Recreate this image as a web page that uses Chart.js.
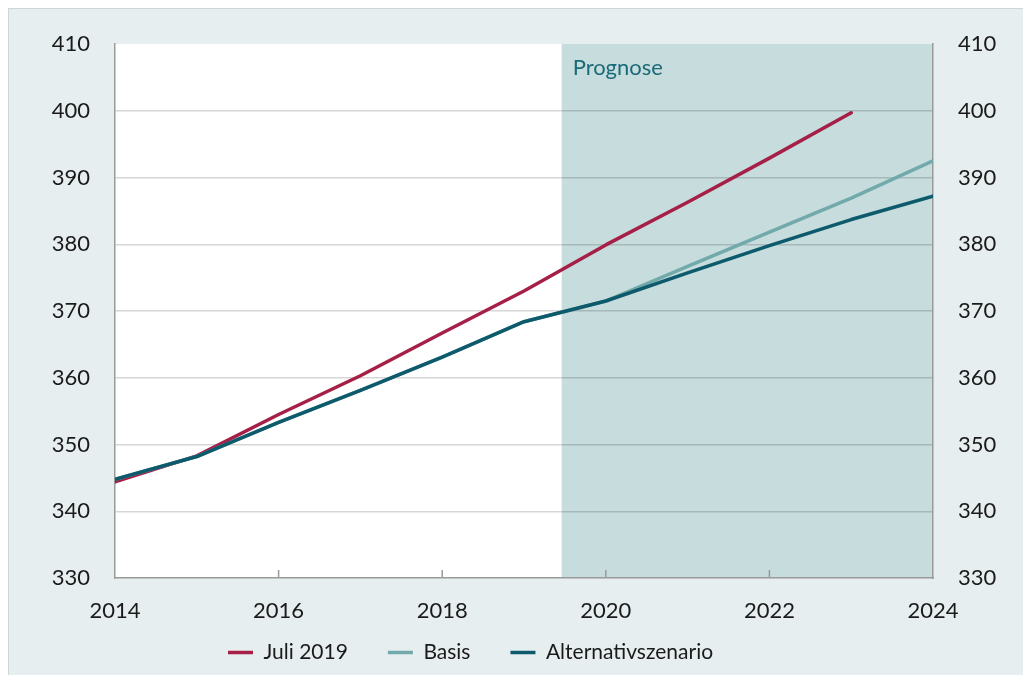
<!DOCTYPE html>
<html>
<head>
<meta charset="utf-8">
<script src="https://cdn.jsdelivr.net/npm/chart.js@4"></script>
<style>
  html, body { margin: 0; padding: 0; background: #ffffff; }
  #frame { position: absolute; left: 8px; top: 8px; width: 1015px; height: 667px;
           background: #e7eeef; border-top: 1px solid #cfd6d8; border-left: 1px solid #cfd6d8; box-sizing: border-box; }
  #wrap { position: absolute; left: 0; top: 0; width: 1023px; height: 675px; }
</style>
</head>
<body>
<div id="frame"></div>
<div id="wrap"><canvas id="c" width="1023" height="675"></canvas></div>
<script>
// ---- data ----
const years = [2014, 2015, 2016, 2017, 2018, 2019, 2020, 2021, 2022, 2023, 2024];
const juli2019 = [344.4, 348.3, 354.5, 360.3, 366.7, 373.0, 379.9, 386.3, 392.9, 399.7, null];
const basis = [344.8, 348.2, 353.3, 358.1, 363.1, 368.4, 371.5, 376.7, 381.8, 386.9, 392.5];
const alternativ = [344.8, 348.2, 353.3, 358.1, 363.1, 368.4, 371.5, 375.7, 379.8, 383.7, 387.2];
const seriesNames = ['Juli 2019', 'Basis', 'Alternativszenario'];
const seriesColors = ['#a61f46', '#72a9aa', '#0d5a6c'];
const yTicks = { min: 330, max: 410, step: 10 };
const xTicks = { min: 2014, max: 2024, step: 2 };
const prognoseStart = 2019.46;
const prognoseEnd = 2024;
const prognoseLabel = 'Prognose';

const FONT = 'Lato, "Open Sans", sans-serif';

function pts(arr) {
  return years.map((y, i) => ({ x: y, y: arr[i] }));
}

const bgPlugin = {
  id: 'bgPlugin',
  beforeDraw(chart) {
    const { ctx, chartArea: a, scales: { x } } = chart;
    ctx.save();
    ctx.fillStyle = '#ffffff';
    ctx.fillRect(a.left, a.top, a.right - a.left, a.bottom - a.top);
    const x0 = x.getPixelForValue(prognoseStart);
    const x1 = x.getPixelForValue(prognoseEnd);
    ctx.fillStyle = '#c6dcdd';
    ctx.fillRect(x0, a.top, x1 - x0, a.bottom - a.top);
    ctx.restore();
  },
  beforeDatasetsDraw(chart) {
    const { ctx, chartArea: a, scales: { x } } = chart;
    ctx.save();
    // inward x tick marks
    ctx.strokeStyle = '#9a9a9a';
    ctx.lineWidth = 1.5;
    x.ticks.forEach(t => {
      if (t.value === xTicks.min || t.value === xTicks.max) return;
      const px = x.getPixelForValue(t.value);
      ctx.beginPath();
      ctx.moveTo(px, a.bottom);
      ctx.lineTo(px, a.bottom - 8);
      ctx.stroke();
    });
    // Prognose label
    const x0 = x.getPixelForValue(prognoseStart);
    ctx.fillStyle = '#1b6a79';
    ctx.font = '22px ' + FONT;
    ctx.textAlign = 'left';
    ctx.textBaseline = 'alphabetic';
    ctx.fillText(prognoseLabel, x0 + 11, a.top + 31);
    ctx.restore();
  },
  afterLayout(chart) {
    const lg = chart.legend;
    if (lg) { lg.left += 188; lg.right += 188; }
    // let the x tick labels extend below the (thin) x-axis box
    chart.scales.x.bottom = chart.height;
  }
};

const chart = new Chart(document.getElementById('c'), {
  type: 'line',
  data: {
    datasets: [
      { label: seriesNames[0], data: pts(juli2019), borderColor: seriesColors[0], backgroundColor: seriesColors[0], borderWidth: 3.5, order: 3 },
      { label: seriesNames[1], data: pts(basis), borderColor: seriesColors[1], backgroundColor: seriesColors[1], borderWidth: 3.5, order: 2 },
      { label: seriesNames[2], data: pts(alternativ), borderColor: seriesColors[2], backgroundColor: seriesColors[2], borderWidth: 3.5, order: 1 }
    ]
  },
  options: {
    responsive: false,
    animation: false,
    spanGaps: false,
    elements: {
      line: { tension: 0, borderCapStyle: 'round', borderJoinStyle: 'round' },
      point: { radius: 0, hoverRadius: 0 }
    },
    layout: { padding: { top: 44, bottom: 2, left: 0, right: 0 } },
    plugins: {
      legend: {
        position: 'bottom',
        align: 'start',
        labels: {
          font: { family: FONT, size: 21 },
          color: '#1a1a1a',
          padding: 40,
          usePointStyle: true,
          pointStyle: 'line',
          pointStyleWidth: 25,
          sort: (a, b) => a.datasetIndex - b.datasetIndex
        }
      },
      tooltip: { enabled: false }
    },
    scales: {
      x: {
        type: 'linear',
        min: xTicks.min,
        max: xTicks.max,
        ticks: {
          stepSize: xTicks.step,
          padding: 20,
          color: '#1a1a1a',
          font: { family: FONT, size: 22 },
          maxRotation: 0,
          autoSkip: false,
          callback: v => String(v)
        },
        grid: { display: false, drawTicks: false },
        border: { display: true, color: '#9a9a9a', width: 1.5 },
        afterFit: s => { s.height = 24; }
      },
      y: {
        position: 'left',
        min: yTicks.min,
        max: yTicks.max,
        ticks: {
          stepSize: yTicks.step,
          padding: 25,
          color: '#1a1a1a',
          font: { family: FONT, size: 22 }
        },
        grid: {
          drawTicks: false,
          lineWidth: 1.5,
          color: ctx => (ctx.tick && (ctx.tick.value === yTicks.max || ctx.tick.value === yTicks.min)) ? 'rgba(0,0,0,0)' : 'rgba(0,0,0,0.16)'
        },
        border: { display: true, color: '#9a9a9a', width: 1.5 },
        afterFit: s => { s.width = 115; }
      },
      y2: {
        position: 'right',
        min: yTicks.min,
        max: yTicks.max,
        ticks: {
          stepSize: yTicks.step,
          padding: 25,
          color: '#1a1a1a',
          font: { family: FONT, size: 22 }
        },
        grid: { display: false, drawTicks: false },
        border: { display: true, color: '#9a9a9a', width: 1.5 },
        afterFit: s => { s.width = 90; }
      }
    }
  },
  plugins: [bgPlugin]
});
</script>
</body>
</html>
